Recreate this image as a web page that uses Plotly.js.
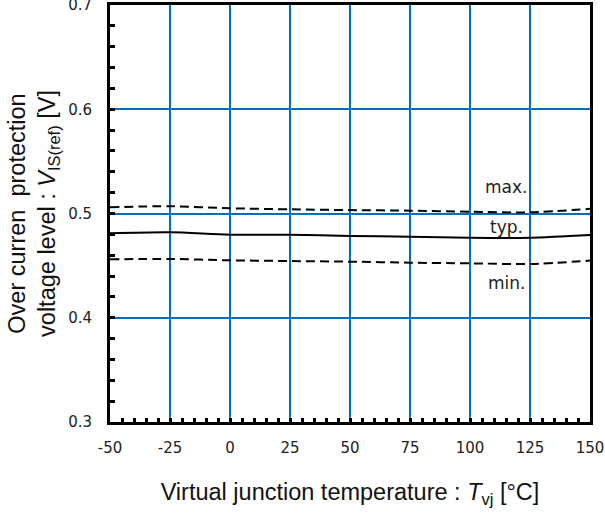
<!DOCTYPE html>
<html>
<head>
<meta charset="utf-8">
<script src="https://cdn.plot.ly/plotly-3.0.1.min.js"></script>
<style>
  html, body { margin: 0; padding: 0; background: #fff; }
  #chart { width: 605px; height: 513px; }
</style>
</head>
<body>
<div id="chart"></div>
<script>
// Virtual junction temperature (°C)
const temperature = [-50, -25, 0, 25, 50, 75, 100, 125, 150];
// Over current protection voltage level V_IS(ref) (V)
const vMax = [0.506, 0.507, 0.505, 0.504, 0.5033, 0.5027, 0.5017, 0.5011, 0.5045];
const vTyp = [0.481, 0.4819, 0.4797, 0.4797, 0.4784, 0.4778, 0.4768, 0.4768, 0.4794];
const vMin = [0.456, 0.4564, 0.4551, 0.4544, 0.4538, 0.4528, 0.4522, 0.4516, 0.4548];

const curveLabels = ['max.', 'typ.', 'min.'];
const labelX = [115, 115, 115];
const labelY = [0.5254, 0.487, 0.4333];

const xTicks = [-50, -25, 0, 25, 50, 75, 100, 125, 150];
const yTicks = [0.3, 0.4, 0.5, 0.6, 0.7];

const gridBlue = '#0070C0';
const tickFont = { family: 'DejaVu Sans, Verdana, sans-serif', size: 15, color: '#222' };
const titleFont = { family: 'Liberation Sans, Arial, sans-serif', size: 23.5, color: '#111' };

function curve(y, dash, name) {
  return {
    x: temperature, y: y, name: name, type: 'scatter', mode: 'lines',
    line: { color: '#000', width: 2, dash: dash, shape: 'spline', smoothing: 0.8 },
    hoverinfo: 'skip'
  };
}

const data = [
  curve(vMax, '9px,5px', 'max.'),
  curve(vTyp, 'solid', 'typ.'),
  curve(vMin, '9px,5px', 'min.')
];

const layout = {
  width: 605, height: 513,
  margin: { l: 110, r: 15, t: 5, b: 91 },
  paper_bgcolor: '#fff', plot_bgcolor: '#fff',
  showlegend: false,
  xaxis: {
    range: [-50, 150], tickvals: xTicks, ticktext: xTicks.map(String),
    showgrid: true, gridcolor: gridBlue, gridwidth: 2,
    zeroline: false, showline: true, linecolor: '#000', linewidth: 3, mirror: true,
    ticks: 'inside', ticklen: 4, tickwidth: 2, tickcolor: '#000',
    minor: { dtick: 5, ticks: 'inside', ticklen: 4, tickwidth: 3, tickcolor: '#000', showgrid: false },
    tickfont: tickFont, ticklabelstandoff: 10, ticklabeloverflow: 'allow',
    title: { text: 'Virtual junction temperature : <i>T</i><sub>vj</sub> [°C]', font: titleFont, standoff: 28 }
  },
  yaxis: {
    range: [0.3, 0.7], tickvals: yTicks, ticktext: ['0.3', '0.4', '0.5', '0.6', '0.7'],
    showgrid: true, gridcolor: gridBlue, gridwidth: 2,
    zeroline: false, showline: true, linecolor: '#000', linewidth: 3, mirror: true,
    ticks: 'inside', ticklen: 5, tickwidth: 3, tickcolor: '#000',
    minor: { dtick: 0.02, ticks: 'inside', ticklen: 5, tickwidth: 3, tickcolor: '#000', showgrid: false },
    tickfont: tickFont, ticklabelstandoff: 12, ticklabeloverflow: 'allow',
    title: { text: 'Over curren\u00A0\u00A0protection<br>voltage level : <i>V</i><sub>IS(ref)</sub> [V]', font: titleFont, standoff: 6 }
  },
  annotations: curveLabels.map((t, i) => ({
    x: labelX[i], y: labelY[i], xref: 'x', yref: 'y', text: t, showarrow: false,
    font: { family: 'DejaVu Sans, Verdana, sans-serif', size: 17, color: '#222' },
    bgcolor: 'rgba(0,0,0,0)'
  }))
};

Plotly.newPlot('chart', data, layout, { staticPlot: true });
</script>
</body>
</html>
